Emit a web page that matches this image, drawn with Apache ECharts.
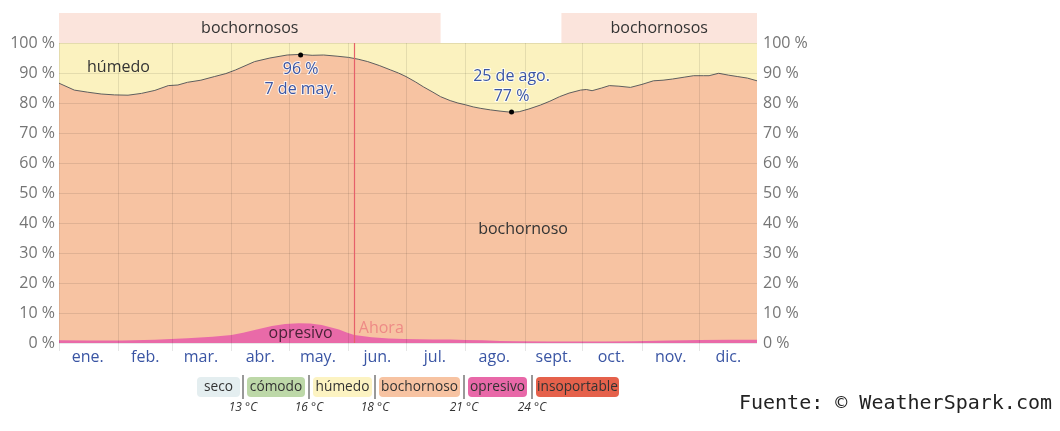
<!DOCTYPE html>
<html>
<head>
<meta charset="utf-8">
<script src="https://cdn.jsdelivr.net/npm/echarts@6/dist/echarts.min.js"></script>
<style>html,body{margin:0;padding:0;background:#fff}#c{width:1060px;height:431px}</style>
</head>
<body>
<div id="c"></div>
<script>
// ---- data ----
const monthNames = ['ene.','feb.','mar.','abr.','may.','jun.','jul.','ago.','sept.','oct.','nov.','dic.'];
const monthStarts = [0,31,59,90,120,151,181,212,243,273,304,334];
const monthMids = [15,45,74,105,135,166,196,227,258,288,319,349];

// % of time humid-or-worse boundary (upper edge of "bochornoso") by day of year
const humidDays   = [0,8,15,22,29,36,43,50,57,62,67,74,81,87,92,97,102,110,119,126,132,138,145,151,156,161,167,173,177,181,186,190,195,199,204,208,212,216,220,225,230,236,240,245,251,256,261,266,272,275,278,283,287,292,298,304,310,315,320,326,331,336,339,344,349,354,359,364];
const humidValues = [86.6,84.3,83.6,83.0,82.7,82.6,83.2,84.2,85.8,86.0,86.9,87.6,88.8,89.8,91.0,92.4,93.8,95.0,96.0,96.2,95.9,96.0,95.6,95.2,94.6,93.8,92.5,91.0,90.0,88.8,87.0,85.4,83.6,82.1,80.8,80.0,79.4,78.7,78.2,77.7,77.3,76.9,77.1,78.0,79.3,80.6,82.1,83.3,84.3,84.5,84.1,85.0,85.8,85.6,85.2,86.2,87.4,87.6,88.0,88.6,89.1,89.1,89.1,89.9,89.3,88.8,88.3,87.4];

// % of time oppressive-or-worse by day of year
const oppDays   = [0,15,33,50,67,80,90,96,102,111,118,125,131,137,142,146,150,154,163,172,180,195,204,212,221,230,239,255,270,285,300,318,334,350,364];
const oppValues = [0.9,0.8,0.8,1.1,1.6,2.1,2.7,3.4,4.3,5.7,6.3,6.6,6.5,6.0,5.2,4.5,3.5,2.7,1.9,1.5,1.3,1.2,1.2,1.0,0.9,0.7,0.6,0.5,0.5,0.5,0.6,0.8,1.0,1.1,1.1];

const maxDay = 126, maxValue = 96, maxLabel = '96 %\n7 de may.';
const minDay = 236, minValue = 77, minLabel = '25 de ago.\n77 %';
const nowDay = 154, nowLabel = 'Ahora';

const bandStarts = [0, 262];
const bandEnds   = [199, 364];
const bandLabel  = 'bochornosos';

const legendNames  = ['seco','cómodo','húmedo','bochornoso','opresivo','insoportable'];
const legendTemps  = ['13 °C','16 °C','18 °C','21 °C','24 °C'];
const sourceText = 'Fuente: © WeatherSpark.com';

// ---- styles ----
const C = {
  humid: '#fbf2bf', muggy: '#f7c3a2', opp: '#e96aa8', band: '#fbe4dc',
  legend: ['#e4eef0','#bdd8a8','#fcf3c2','#f7c3a2','#e868a8','#e5614b'],
  blue: '#3a55a4', grid: 'rgba(0,0,0,0.09)', axisText: '#757575'
};
const FONT = '"Open Sans", "Noto Sans", sans-serif';

const days = [];
for (let i = 0; i < 365; i++) days.push(String(i));

const humidData = humidDays.map((d, i) => [d, humidValues[i]]);
const oppData = oppDays.map((d, i) => [d, oppValues[i]]);

const textPt = (d, v, text, extra) => Object.assign({
  coord: [d, v], symbol: 'circle', symbolSize: 1, itemStyle: { color: 'rgba(0,0,0,0)' },
  label: { show: true, formatter: text, position: 'inside', color: '#333', fontSize: 16, fontFamily: FONT }
}, extra || {});

// legend layout (pixels)
const legX = [197, 247, 313, 379, 468, 536];
const legW = [43, 58, 59, 81, 59, 83];
const sepX = [243, 309, 375, 464, 532];
const graphics = [];
legendNames.forEach((n, i) => {
  graphics.push({ type: 'rect', shape: { x: legX[i], y: 377, width: legW[i], height: 20, r: 4 }, style: { fill: C.legend[i] } });
  graphics.push({ type: 'text', x: legX[i] + legW[i] / 2, y: 387, style: { text: n, fill: '#333', font: '13.7px ' + FONT, align: 'center', verticalAlign: 'middle' } });
});
legendTemps.forEach((t, i) => {
  graphics.push({ type: 'line', shape: { x1: sepX[i], y1: 375, x2: sepX[i], y2: 399 }, style: { stroke: '#555', lineWidth: 1.2 } });
  graphics.push({ type: 'text', x: sepX[i], y: 408, style: { text: t, fill: '#333', font: 'italic 12px ' + FONT, align: 'center', verticalAlign: 'middle' } });
});
graphics.push({ type: 'text', right: 8, top: 394, style: { text: sourceText, fill: '#222', font: '20px "DejaVu Sans Mono", "Liberation Mono", monospace' } });

const chart = echarts.init(document.getElementById('c'), null, { renderer: 'canvas' });
chart.setOption({
  animation: false,
  backgroundColor: '#fff',
  grid: [
    { left: 59, right: 303, top: 43, bottom: 88, show: true, backgroundColor: C.humid, borderWidth: 0 },
    { left: 59, right: 303, top: 13, height: 30, show: false }
  ],
  xAxis: [
    {
      type: 'category', data: days, boundaryGap: false, gridIndex: 0, z: 5,
      axisLine: { show: false },
      axisTick: { show: true, length: 8, interval: (i) => monthStarts.includes(i), lineStyle: { color: 'rgba(0,0,0,0.1)' } },
      splitLine: { show: true, interval: (i) => monthStarts.includes(i), lineStyle: { color: C.grid } },
      axisLabel: {
        interval: (i) => monthMids.includes(i),
        formatter: (v, i) => monthNames[monthMids.indexOf(Number(v))] || '',
        color: C.blue, fontSize: 16, fontFamily: FONT, margin: 6
      }
    },
    { type: 'category', data: days, boundaryGap: false, gridIndex: 1, show: false }
  ],
  yAxis: [
    {
      type: 'value', min: 0, max: 100, interval: 10, gridIndex: 0, z: 5,
      axisLine: { show: false }, axisTick: { show: false },
      splitLine: { show: true, lineStyle: { color: C.grid } },
      axisLabel: { formatter: '{value} %', color: C.axisText, fontSize: 16, fontFamily: FONT, margin: 4 }
    },
    {
      type: 'value', min: 0, max: 100, interval: 10, gridIndex: 0, position: 'right',
      axisLine: { show: false }, axisTick: { show: false }, splitLine: { show: false },
      axisLabel: { formatter: '{value} %', color: C.axisText, fontSize: 16, fontFamily: FONT, margin: 6 }
    },
    { type: 'value', min: 0, max: 1, gridIndex: 1, show: false }
  ],
  graphic: graphics,
  series: [
    {
      name: 'bochornoso', type: 'line', xAxisIndex: 0, yAxisIndex: 0, data: humidData,
      symbol: 'none', smooth: false, z: 2,
      lineStyle: { color: '#5e5e5e', width: 1 },
      areaStyle: { color: C.muggy, opacity: 1, origin: 'start' },
      markPoint: {
        z: 10,
        data: [
          { coord: [maxDay, maxValue], symbol: 'circle', symbolSize: 5, itemStyle: { color: '#000' },
            label: { show: true, formatter: maxLabel, position: 'bottom', distance: 2, color: C.blue, fontSize: 16, lineHeight: 20, fontFamily: FONT, textBorderColor: 'rgba(255,255,255,0.8)', textBorderWidth: 2 } },
          { coord: [minDay, minValue], symbol: 'circle', symbolSize: 5, itemStyle: { color: '#000' },
            label: { show: true, formatter: minLabel, position: 'top', distance: 3, color: C.blue, fontSize: 16, lineHeight: 20, fontFamily: FONT, textBorderColor: 'rgba(255,255,255,0.8)', textBorderWidth: 2 } },
          textPt(31, 92, 'húmedo'),
          textPt(242, 38, 'bochornoso'),
          textPt(126, 3.2, 'opresivo', { label: { show: true, formatter: 'opresivo', position: 'inside', color: '#4a2238', fontSize: 16, fontFamily: FONT } }),
          textPt(nowDay, 4.7, nowLabel, { label: { show: true, formatter: nowLabel, position: 'right', distance: 4, color: '#ee8a86', fontSize: 16, fontFamily: FONT } })
        ]
      }
    },
    {
      name: 'opresivo', type: 'line', xAxisIndex: 0, yAxisIndex: 0, data: oppData,
      symbol: 'none', z: 3,
      lineStyle: { width: 0, color: C.opp },
      areaStyle: { color: C.opp, opacity: 1, origin: 'start' },
      markLine: {
        silent: true, symbol: 'none', z: 6,
        label: { show: false },
        lineStyle: { color: '#e6606a', width: 1.2, type: 'solid' },
        data: [{ xAxis: nowDay }]
      }
    },
    {
      name: 'bandas', type: 'custom', xAxisIndex: 1, yAxisIndex: 2,
      data: bandStarts.map((s, i) => [s, bandEnds[i]]),
      renderItem: (params, api) => {
        const p0 = api.coord([api.value(0), 1]);
        const p1 = api.coord([api.value(1), 0]);
        return {
          type: 'group', children: [
            { type: 'rect', shape: { x: p0[0], y: p0[1], width: p1[0] - p0[0], height: p1[1] - p0[1] }, style: { fill: C.band } },
            { type: 'text', x: (p0[0] + p1[0]) / 2, y: (p0[1] + p1[1]) / 2, style: { text: bandLabel, fill: '#333', font: '16px ' + FONT, align: 'center', verticalAlign: 'middle' } }
          ]
        };
      }
    }
  ]
});
</script>
</body>
</html>
